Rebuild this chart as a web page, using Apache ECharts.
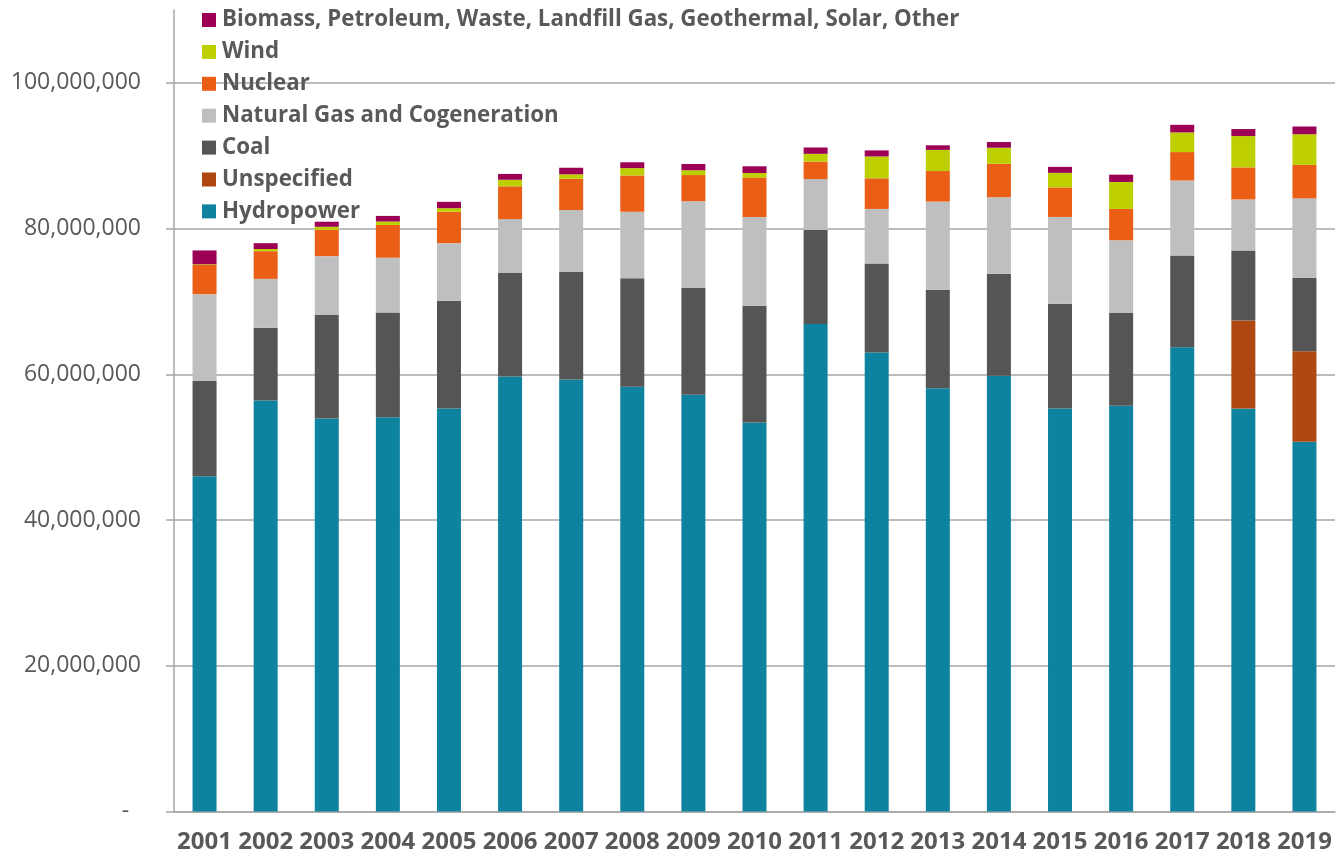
<!DOCTYPE html>
<html>
<head>
<meta charset="utf-8">
<title>Power mix</title>
<script src="https://cdn.jsdelivr.net/npm/echarts@6/dist/echarts.min.js"></script>
<style>
    html, body { margin: 0; padding: 0; background: #fff; }
    #bar { width: 1340px; height: 863px; }
</style>
</head>
<body>
<div id="bar"></div>
<script>
// 年份 (x轴)
var years = ['2001','2002','2003','2004','2005','2006','2007','2008','2009','2010',
             '2011','2012','2013','2014','2015','2016','2017','2018','2019'];
// 各类电源 (单位: 从图上读出, 百万)
var hydropower = [46.0, 56.4, 53.95, 54.1, 55.3, 59.7, 59.3, 58.3, 57.2, 53.4,
                  66.9, 63.0, 58.1, 59.8, 55.3, 55.7, 63.7, 55.3, 50.75];
var unspecified = [0, 0, 0, 0, 0, 0, 0, 0, 0, 0,
                   0, 0, 0, 0, 0, 0, 0, 12.1, 12.4];
var coal = [13.1, 10.0, 14.2, 14.4, 14.8, 14.2, 14.75, 14.9, 14.65, 16.0,
            12.9, 12.2, 13.5, 14.0, 14.4, 12.7, 12.6, 9.6, 10.1];
var naturalGas = [11.9, 6.7, 8.07, 7.5, 7.9, 7.4, 8.5, 9.1, 11.9, 12.2,
                  7.0, 7.5, 12.1, 10.5, 11.9, 10.0, 10.3, 7.0, 10.9];
var nuclear = [4.0, 3.8, 3.62, 4.5, 4.3, 4.5, 4.3, 5.0, 3.6, 5.4,
               2.4, 4.2, 4.2, 4.6, 4.05, 4.3, 3.9, 4.4, 4.6];
var wind = [0.1, 0.3, 0.41, 0.47, 0.5, 0.9, 0.6, 1.0, 0.65, 0.63,
            1.06, 3.0, 2.9, 2.2, 2.0, 3.7, 2.7, 4.3, 4.2];
var biomass = [1.9, 0.8, 0.69, 0.77, 0.87, 0.8, 0.9, 0.8, 0.87, 0.92,
               0.87, 0.83, 0.63, 0.78, 0.82, 1.0, 1.04, 0.96, 1.06];
// y轴刻度
var yTicks = [0, 20000000, 40000000, 60000000, 80000000, 100000000];

var powerMix = {
    init : function() {
        powerMix.funcs.render();
    }
    ,names : {
        hydro : 'Hydropower',
        unspec : 'Unspecified',
        coal : 'Coal',
        gas : 'Natural Gas and Cogeneration',
        nuclear : 'Nuclear',
        wind : 'Wind',
        bio : 'Biomass, Petroleum, Waste, Landfill Gas, Geothermal, Solar, Other'
    }
    ,funcs : {
        /**百万 -> 实际数值 */
        toUnits : function(arr) {
            return arr.map(function(v) { return Math.round(v * 1000000); });
        }
        ,series : function(name, data, color) {
            return {
                name : name,
                type : 'bar',
                stack : 'total',
                barWidth : 24,
                data : powerMix.funcs.toUnits(data),
                itemStyle : { color : color },
                emphasis : { disabled : true }
            };
        }
        ,render : function() {
            var n = powerMix.names;
            var f = powerMix.funcs;
            var myChart = echarts.init(document.getElementById('bar'));
            var option = {
                animation : false,
                textStyle : { fontFamily : 'Open Sans' },
                grid : { left : 174, right : 5, top : 10, bottom : 51.5, containLabel : false },
                legend : {
                    orient : 'vertical',
                    left : 202,
                    top : 9,
                    padding : 0,
                    itemWidth : 14,
                    itemHeight : 14,
                    itemGap : 9.9,
                    icon : 'rect',
                    selectedMode : false,
                    textStyle : { fontSize : 22.3, fontWeight : 'bold', color : '#595959', lineHeight : 20, padding : [0, 0, 0, 1] },
                    data : [n.bio, n.wind, n.nuclear, n.gas, n.coal, n.unspec, n.hydro]
                },
                xAxis : {
                    type : 'category',
                    data : years,
                    axisLine : { lineStyle : { color : '#A6A6A6', width : 1.5 } },
                    axisTick : { length : 8, lineStyle : { color : '#A6A6A6', width : 1.5 } },
                    axisLabel : { interval : 0, margin : 19, fontSize : 24, fontWeight : 'bold', color : '#595959' }
                },
                yAxis : {
                    type : 'value',
                    min : 0,
                    max : 110000000,
                    interval : 20000000,
                    axisLine : { show : true, lineStyle : { color : '#A6A6A6', width : 1.5 } },
                    axisTick : { show : true, length : 8, customValues : yTicks, lineStyle : { color : '#A6A6A6', width : 1.5 } },
                    splitLine : { lineStyle : { color : ['#A6A6A6','#A6A6A6','#A6A6A6','#A6A6A6','#A6A6A6','#A6A6A6','rgba(0,0,0,0)'], width : 1.5 } },
                    axisLabel : {
                        customValues : yTicks,
                        margin : 33,
                        fontSize : 23,
                        color : '#595959',
                        formatter : function(v) {
                            if (v === 0) return '-  ';
                            return v.toLocaleString('en-US');
                        }
                    }
                },
                series : [
                    f.series(n.hydro, hydropower, '#0D83A0'),
                    f.series(n.unspec, unspecified, '#AF4810'),
                    f.series(n.coal, coal, '#555555'),
                    f.series(n.gas, naturalGas, '#BFBFBF'),
                    f.series(n.nuclear, nuclear, '#EB5E16'),
                    f.series(n.wind, wind, '#BDCF00'),
                    f.series(n.bio, biomass, '#9B0054')
                ]
            };
            myChart.setOption(option, true);
            // 根据窗口大小变动图标
            window.onresize = function() {
                myChart.resize();
            }
        }
    }
}
powerMix.init();
</script>
</body>
</html>
